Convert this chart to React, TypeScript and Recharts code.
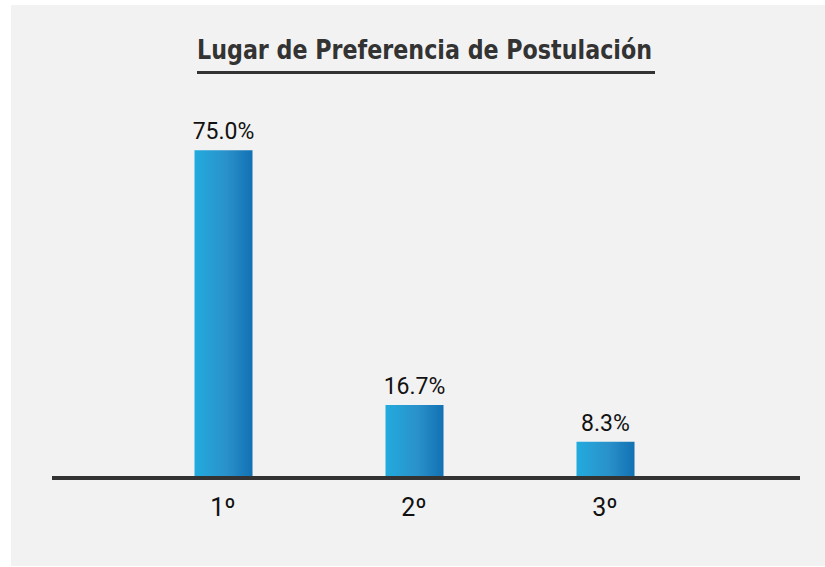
import React from "react";
import { BarChart, Bar, XAxis, YAxis, LabelList } from "recharts";

const categories = ["1º", "2º", "3º"];
const values = [75.0, 16.7, 8.3];
const valueLabels = ["75.0%", "16.7%", "8.3%"];
const title = "Lugar de Preferencia de Postulación";

const data = categories.map((c, i) => ({ name: c, value: values[i], label: valueLabels[i] }));

const Tick = (props: any) => {
  const { x, y, payload } = props;
  return (
    <text x={x} y={y} dy={30} textAnchor="middle" fill="#111" fontFamily="Roboto, 'Noto Sans', sans-serif" fontSize={25}>
      {payload.value}
    </text>
  );
};

export default function App() {
  return (
    <div style={{ position: "absolute", left: 0, top: 0, width: 825, height: 567, background: "#ffffff" }}>
      <div style={{ position: "absolute", left: 11, top: 5, width: 814, height: 561, background: "#f2f2f2" }} />
      <svg style={{ position: "absolute", left: 0, top: 0 }} width={825} height={100}>
        <text
          x={197}
          y={59}
          fill="#333333"
          fontFamily="'Liberation Sans Narrow', 'DejaVu Sans Condensed', sans-serif"
          fontWeight="bold"
          fontSize={27}
          textLength={455}
          lengthAdjust="spacingAndGlyphs"
        >
          {title}
        </text>
        <rect x={197} y={71} width={458} height={3} fill="#333333" />
      </svg>
      <div style={{ position: "absolute", left: 0, top: 0 }}>
        <BarChart width={825} height={567} data={data} margin={{ top: 41, right: 25, bottom: 59, left: 52 }}>
          <defs>
            <linearGradient id="barGrad" x1="0" y1="0" x2="1" y2="0">
              <stop offset="0%" stopColor="#22abde" />
              <stop offset="55%" stopColor="#2a91ca" />
              <stop offset="100%" stopColor="#1271b3" />
            </linearGradient>
          </defs>
          <YAxis hide domain={[0, 100]} />
          <Bar dataKey="value" fill="url(#barGrad)" barSize={58} isAnimationActive={false}>
            <LabelList
              dataKey="label"
              position="top"
              offset={11}
              fill="#111"
              fontFamily="Roboto, 'Noto Sans', sans-serif"
              fontSize={23}
            />
          </Bar>
          <XAxis
            dataKey="name"
            height={30}
            padding={{ left: 75.5, right: 99.5 }}
            axisLine={{ stroke: "#333333", strokeWidth: 4 }}
            tickLine={false}
            tick={<Tick />}
            interval={0}
          />
        </BarChart>
      </div>
    </div>
  );
}
